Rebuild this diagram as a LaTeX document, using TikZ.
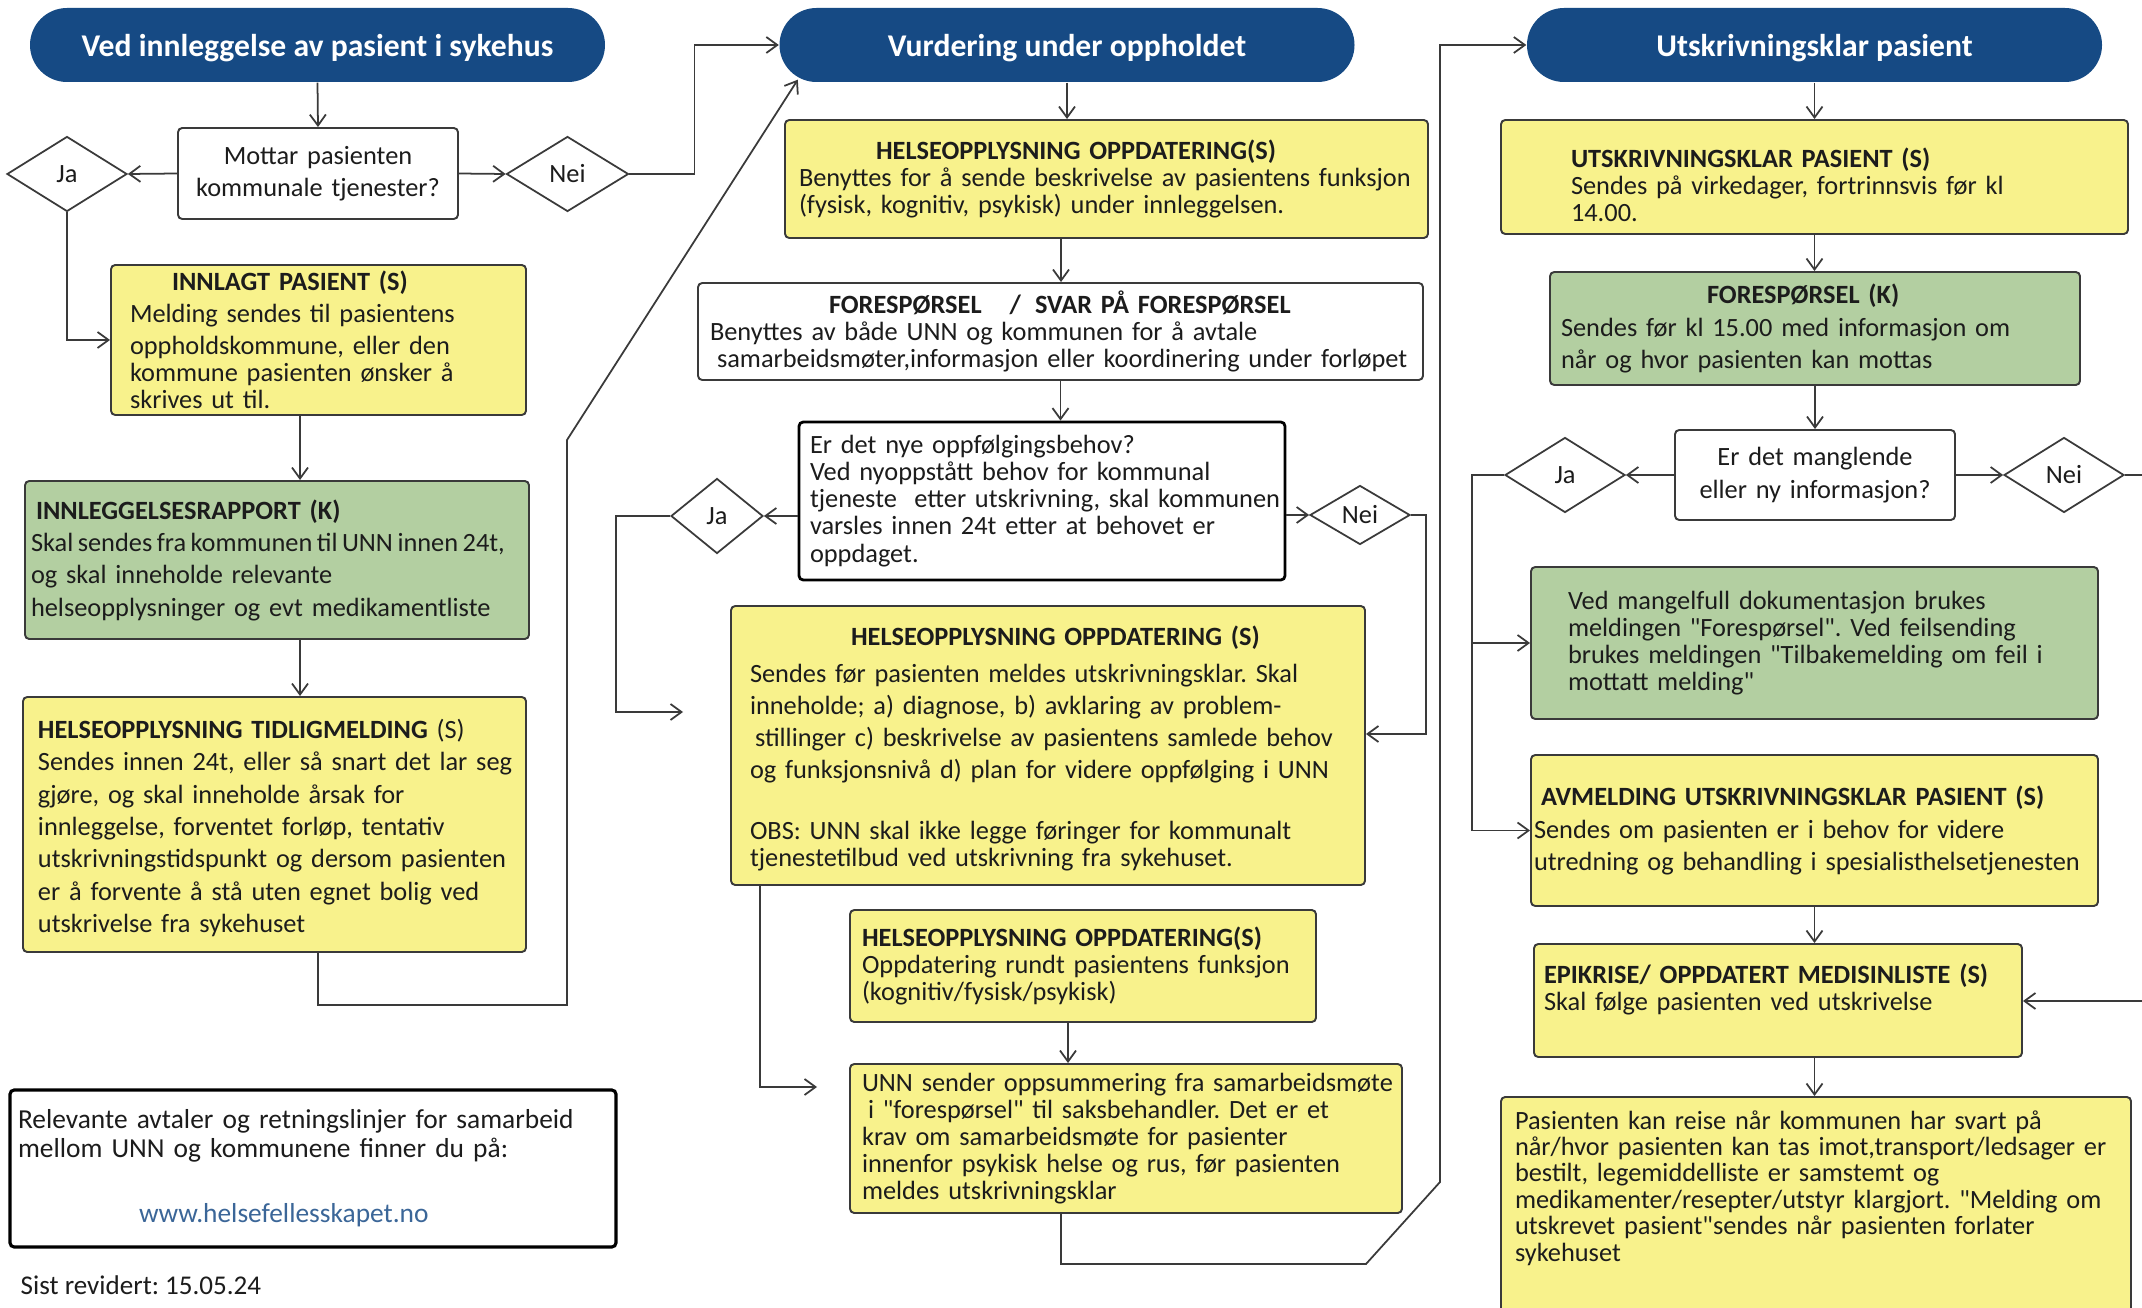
\documentclass[tikz,border=0pt]{standalone}
\usepackage{fontspec}
\setmainfont{Carlito}
\newfontfamily\carlito{Carlito}
\usetikzlibrary{shapes.geometric,arrows.meta}

\definecolor{headblue}{HTML}{164A84}
\definecolor{boxyellow}{HTML}{F8F28C}
\definecolor{boxgreen}{HTML}{B3CFA1}
\definecolor{edgegray}{HTML}{3A3A3A}
\definecolor{linkblue}{HTML}{3B6698}
\definecolor{inkgray}{HTML}{1C1C1C}

\newcommand{\boxfont}{\carlito\fontsize{7.5}{7.7}\selectfont\spaceskip=0.17em\relax}
\newcommand{\loosefont}{\carlito\fontsize{7.5}{9.2}\selectfont\spaceskip=0.17em\relax}
\newcommand{\densefont}{\carlito\fontsize{7.5}{7.5}\selectfont\spaceskip=0.17em\relax}
\newcommand{\narrowline}[1]{\mbox{\spaceskip=0.17em\relax#1}}

\tikzset{
  head/.style={rectangle, rounded corners=0.37cm, fill=headblue, text=white,
    font=\carlito\bfseries\fontsize{9}{10}\selectfont, minimum width=5.75cm, minimum height=0.74cm,
    execute at begin node={\rule[-2pt]{0pt}{10.6pt}}},
  msg/.style={rectangle, rounded corners=1.2pt, draw=edgegray, line width=0.55pt,
    text=inkgray, font=\boxfont, align=left, inner ysep=0pt},
  ybox/.style={msg, fill=boxyellow},
  gbox/.style={msg, fill=boxgreen},
  wbox/.style={msg, fill=white},
  dims/.style n args={3}{minimum width=#1cm, minimum height=#2cm, inner xsep=#3cm,
    text width=#1cm-2*#3cm},
  ask/.style={diamond, draw=edgegray, line width=0.5pt, fill=white, inner sep=0pt,
    text=inkgray, font=\boxfont},
  link/.style={draw=edgegray, line width=0.5pt},
}

\begin{document}
\frenchspacing
\begin{tikzpicture}[>={Straight Barb[length=1.1mm,width=1.6mm]}]

\useasboundingbox (0,0) rectangle (21.42,-13.08);
\fill[white] (0,0) rectangle (21.42,-13.08);

\node[head] (head1) at (3.175,-0.45) {Ved innleggelse av pasient i sykehus};
\node[head] (head2) at (10.67,-0.45) {Vurdering under oppholdet};
\node[head] (head3) at (18.145,-0.45) {Utskrivningsklar pasient};

\node[wbox, dims={2.80}{0.91}{0.1}, align=center, font=\loosefont] (mottar) at (3.18,-1.735) {Mottar pasienten\\kommunale tjenester?};
\node[ask, minimum width=1.20cm, minimum height=0.75cm] (ja1) at (0.67,-1.74) {Ja};
\node[ask, minimum width=1.22cm, minimum height=0.75cm] (nei1) at (5.675,-1.74) {Nei};

\node[ybox, dims={4.15}{1.50}{0.19}] (innlagt) at (3.185,-3.40) {\hspace*{0.42cm}\textbf{INNLAGT PASIENT (S)}\\[0.05cm]
  Melding sendes til pasientens\\[0.05cm] oppholdskommune, eller den\\ kommune pasienten ønsker å\\ skrives ut til.};
\node[gbox, dims={5.04}{1.58}{0.06}, font=\loosefont] (rapport) at (2.77,-5.60) {\hspace*{0.05cm}\textbf{INNLEGGELSESRAPPORT (K)}\\
  \narrowline{Skal sendes fra kommunen til UNN innen 24t,}\\ og skal inneholde relevante\\ helseopplysninger og evt medikamentliste};
\node[ybox, dims={5.03}{2.55}{0.15}, font=\loosefont] (tidlig) at (2.745,-8.245) {\rule{0pt}{2.6mm}\textbf{HELSEOPPLYSNING TIDLIGMELDING} (S)\\
  \mbox{Sendes innen 24t, eller så snart det lar seg}\\ gjøre, og skal inneholde årsak for\\ innleggelse, forventet forløp, tentativ\\
  \mbox{utskrivningstidspunkt og dersom pasienten}\\ er å forvente å stå uten egnet bolig ved\\ utskrivelse fra sykehuset};

\node[msg, fill=white, draw=black, line width=0.9pt, dims={6.06}{1.57}{0.08}, font=\carlito\fontsize{7.8}{8.3}\selectfont] (info) at (3.13,-11.685) {Relevante avtaler og retningslinjer for samarbeid\\
  mellom UNN og kommunene finner du på:\\[0.36cm] \hspace*{1.21cm}\textcolor{linkblue}{www.helsefellesskapet.no}};
\node[anchor=west, inner sep=0pt, text=inkgray, font=\carlito\fontsize{7.7}{8}\selectfont] (revdate) at (0.20,-12.85) {Sist revidert: 15.05.24};

\node[ybox, dims={6.43}{1.18}{0.14}] (ho1) at (11.065,-1.79) {\hspace*{0.77cm}\textbf{HELSEOPPLYSNING OPPDATERING(S)}\\
  \mbox{Benyttes for å sende beskrivelse av pasientens funksjon}\\ (fysisk, kognitiv, psykisk) under innleggelsen.};
\node[wbox, dims={7.25}{0.97}{0.12}] (fsp) at (10.605,-3.315) {\hspace*{1.19cm}\textbf{FORESPØRSEL\hspace{0.28cm}/\hspace{0.14cm}SVAR PÅ FORESPØRSEL}\\
  Benyttes av både UNN og kommunen for å avtale\\ \hspace*{0.07cm}\mbox{samarbeidsmøter,informasjon eller koordinering under forløpet}};
\node[wbox, draw=black, line width=0.8pt, dims={4.86}{1.58}{0.11}] (q2) at (10.42,-5.01) {Er det nye oppfølgingsbehov?\\
  Ved nyoppstått behov for kommunal\\ \mbox{tjeneste\ \ etter utskrivning, skal kommunen}\\ varsles innen 24t etter at behovet er\\ oppdaget.};
\node[ask, minimum width=0.92cm, minimum height=0.75cm] (ja2) at (7.17,-5.16) {Ja};
\node[ask, minimum width=1.00cm, minimum height=0.59cm] (nei2) at (13.60,-5.15) {Nei};
\node[ybox, dims={6.34}{2.79}{0.19}] (ho2) at (10.48,-7.455) {\rule{0pt}{2.6mm}\hspace*{1.01cm}\textbf{HELSEOPPLYSNING OPPDATERING (S)}\\[0.1cm]
  \mbox{Sendes før pasienten meldes utskrivningsklar. Skal}\\[0.05cm] \mbox{inneholde; a) diagnose, b) avklaring av problem-}\\[0.05cm]
  \hspace*{0.05cm}\mbox{stillinger c) beskrivelse av pasientens samlede behov}\\[0.05cm] \mbox{og funksjonsnivå d) plan for videre oppfølging i UNN}\\[0.34cm]
  OBS: UNN skal ikke legge føringer for kommunalt\\ tjenestetilbud ved utskrivning fra sykehuset.};
\node[ybox, dims={4.66}{1.12}{0.12}] (ho3) at (10.83,-9.66) {\textbf{HELSEOPPLYSNING OPPDATERING(S)}\\
  Oppdatering rundt pasientens funksjon\\ (kognitiv/fysisk/psykisk)};
\node[ybox, dims={5.52}{1.49}{0.12}] (unn) at (11.26,-11.385) {\mbox{UNN sender oppsummering fra samarbeidsmøte}\\
  \hspace*{0.06cm}i "forespørsel" til saksbehandler. Det er et\\ krav om samarbeidsmøte for pasienter\\
  \mbox{innenfor psykisk helse og rus, før pasienten}\\ meldes utskrivningsklar};

\node[ybox, dims={6.27}{1.14}{0.70}] (utsk) at (18.145,-1.77) {\rule{0pt}{3.5mm}\textbf{UTSKRIVNINGSKLAR PASIENT (S)}\\
  Sendes på virkedager, fortrinnsvis før kl\\ 14.00.};
\node[gbox, dims={5.30}{1.13}{0.11}, font=\loosefont] (fk) at (18.15,-3.285) {\hspace*{1.46cm}\textbf{FORESPØRSEL (K)}\\
  Sendes før kl 15.00 med informasjon om\\ når og hvor pasienten kan mottas};
\node[wbox, dims={2.80}{0.90}{0.1}, align=center, font=\loosefont] (q3) at (18.15,-4.75) {Er det manglende\\ eller ny informasjon?};
\node[ask, minimum width=1.20cm, minimum height=0.75cm] (ja3) at (15.65,-4.75) {Ja};
\node[ask, minimum width=1.20cm, minimum height=0.75cm] (nei3) at (20.64,-4.75) {Nei};
\node[gbox, dims={5.67}{1.52}{0.37}] (mangel) at (18.145,-6.43) {Ved mangelfull dokumentasjon brukes\\
  \mbox{meldingen "Forespørsel". Ved feilsending}\\ \mbox{brukes meldingen "Tilbakemelding om feil i}\\ mottatt melding"};
\node[ybox, dims={5.67}{1.51}{0.03}, font=\loosefont] (avm) at (18.145,-8.305) {\hspace*{0.07cm}\textbf{AVMELDING UTSKRIVNINGSKLAR PASIENT (S)}\\
  Sendes om pasienten er i behov for videre\\ \mbox{utredning og behandling i spesialisthelsetjenesten}};
\node[ybox, dims={4.88}{1.13}{0.10}] (epi) at (17.78,-10.005) {\textbf{EPIKRISE/ OPPDATERT MEDISINLISTE (S)}\\
  Skal følge pasienten ved utskrivelse\\ \mbox{}};
\node[ybox, dims={6.30}{2.40}{0.14}, anchor=north, font=\densefont] (pas) at (18.16,-10.96) {Pasienten kan reise når kommunen har svart på\\
  \mbox{når/hvor pasienten kan tas imot,transport/ledsager er}\\ bestilt, legemiddelliste er samstemt og\\
  \mbox{medikamenter/resepter/utstyr klargjort. "Melding om}\\ \mbox{utskrevet pasient"sendes når pasienten forlater}\\ sykehuset\\[0.36cm] \mbox{}};

\draw[link,->] (head1.south) -- (mottar.north);
\draw[link,->] (mottar.west) -- (ja1.east);
\draw[link,->] (mottar.east) -- (nei1.west);
\draw[link,->] (nei1.east) -- ++(0.65,0) |- (head2.west);
\draw[link,->] (ja1.south) |- (innlagt.west);
\draw[link,->] ([xshift=-0.185cm]innlagt.south) -- ([xshift=-0.185cm]innlagt.south |- rapport.north);
\draw[link,->] ([xshift=0.23cm]rapport.south) -- ([xshift=0.23cm]rapport.south |- tidlig.north);

\coordinate (loopa) at (5.67,-10.05);
\coordinate (loopb) at (5.67,-4.40);
\draw[link,->] ([xshift=0.435cm]tidlig.south) |- (loopa) -- (loopb) -- ([xshift=0.19cm,yshift=0.03cm]head2.south west);

\draw[link,->] (head2.south) -- (head2.south |- ho1.north);
\draw[link,->] ([xshift=-0.455cm]ho1.south) -- ([xshift=-0.455cm]ho1.south |- fsp.north);
\draw[link,->] (fsp.south) -- (fsp.south |- q2.north);
\draw[link,->] (q2.west |- ja2) -- (ja2.east);
\draw[link,->] (q2.east |- nei2) -- (nei2.west);
\draw[link,->] (nei2.east) -- ++(0.15,0) |- ([yshift=0.115cm]ho2.east);

\coordinate (jabend) at (6.16,-7.12);
\coordinate (jaend) at (6.83,-7.12);
\draw[link,->] (ja2.west) -| (jabend) -- (jaend);

\coordinate (hoend) at (8.17,-10.87);
\draw[link,->] ([xshift=0.30cm]ho2.south west) |- (hoend);
\draw[link,->] ([xshift=-0.15cm]ho3.south) -- ([xshift=-0.15cm]ho3.south |- unn.north);

\coordinate (outa) at (13.66,-12.64);
\coordinate (outb) at (14.40,-11.82);
\draw[link,->] ([xshift=-0.65cm]unn.south) |- (outa) -- (outb) |- (head3.west);

\draw[link,->] (head3.south) -- (head3.south |- utsk.north);
\draw[link,->] (utsk.south) -- (utsk.south |- fk.north);
\draw[link,->] (fk.south) -- (fk.south |- q3.north);
\draw[link,->] (q3.west) -- (ja3.east);
\draw[link,->] (q3.east) -- (nei3.west);

\coordinate (neiout) at (21.42,-4.75);
\draw[link] (nei3.east) -- (neiout);
\coordinate (epiin) at (21.42,-10.01);
\draw[link,->] (epiin) -- (epiin -| epi.east);

\draw[link,->] (ja3.west) -- ++(-0.32,0) |- (mangel.west);
\draw[link,->] (ja3.west) -- ++(-0.32,0) |- (avm.west);
\draw[link,->] (avm.south) -- (avm.south |- epi.north);
\draw[link,->] (avm.south |- epi.south) -- (avm.south |- pas.north);

\end{tikzpicture}
\end{document}
